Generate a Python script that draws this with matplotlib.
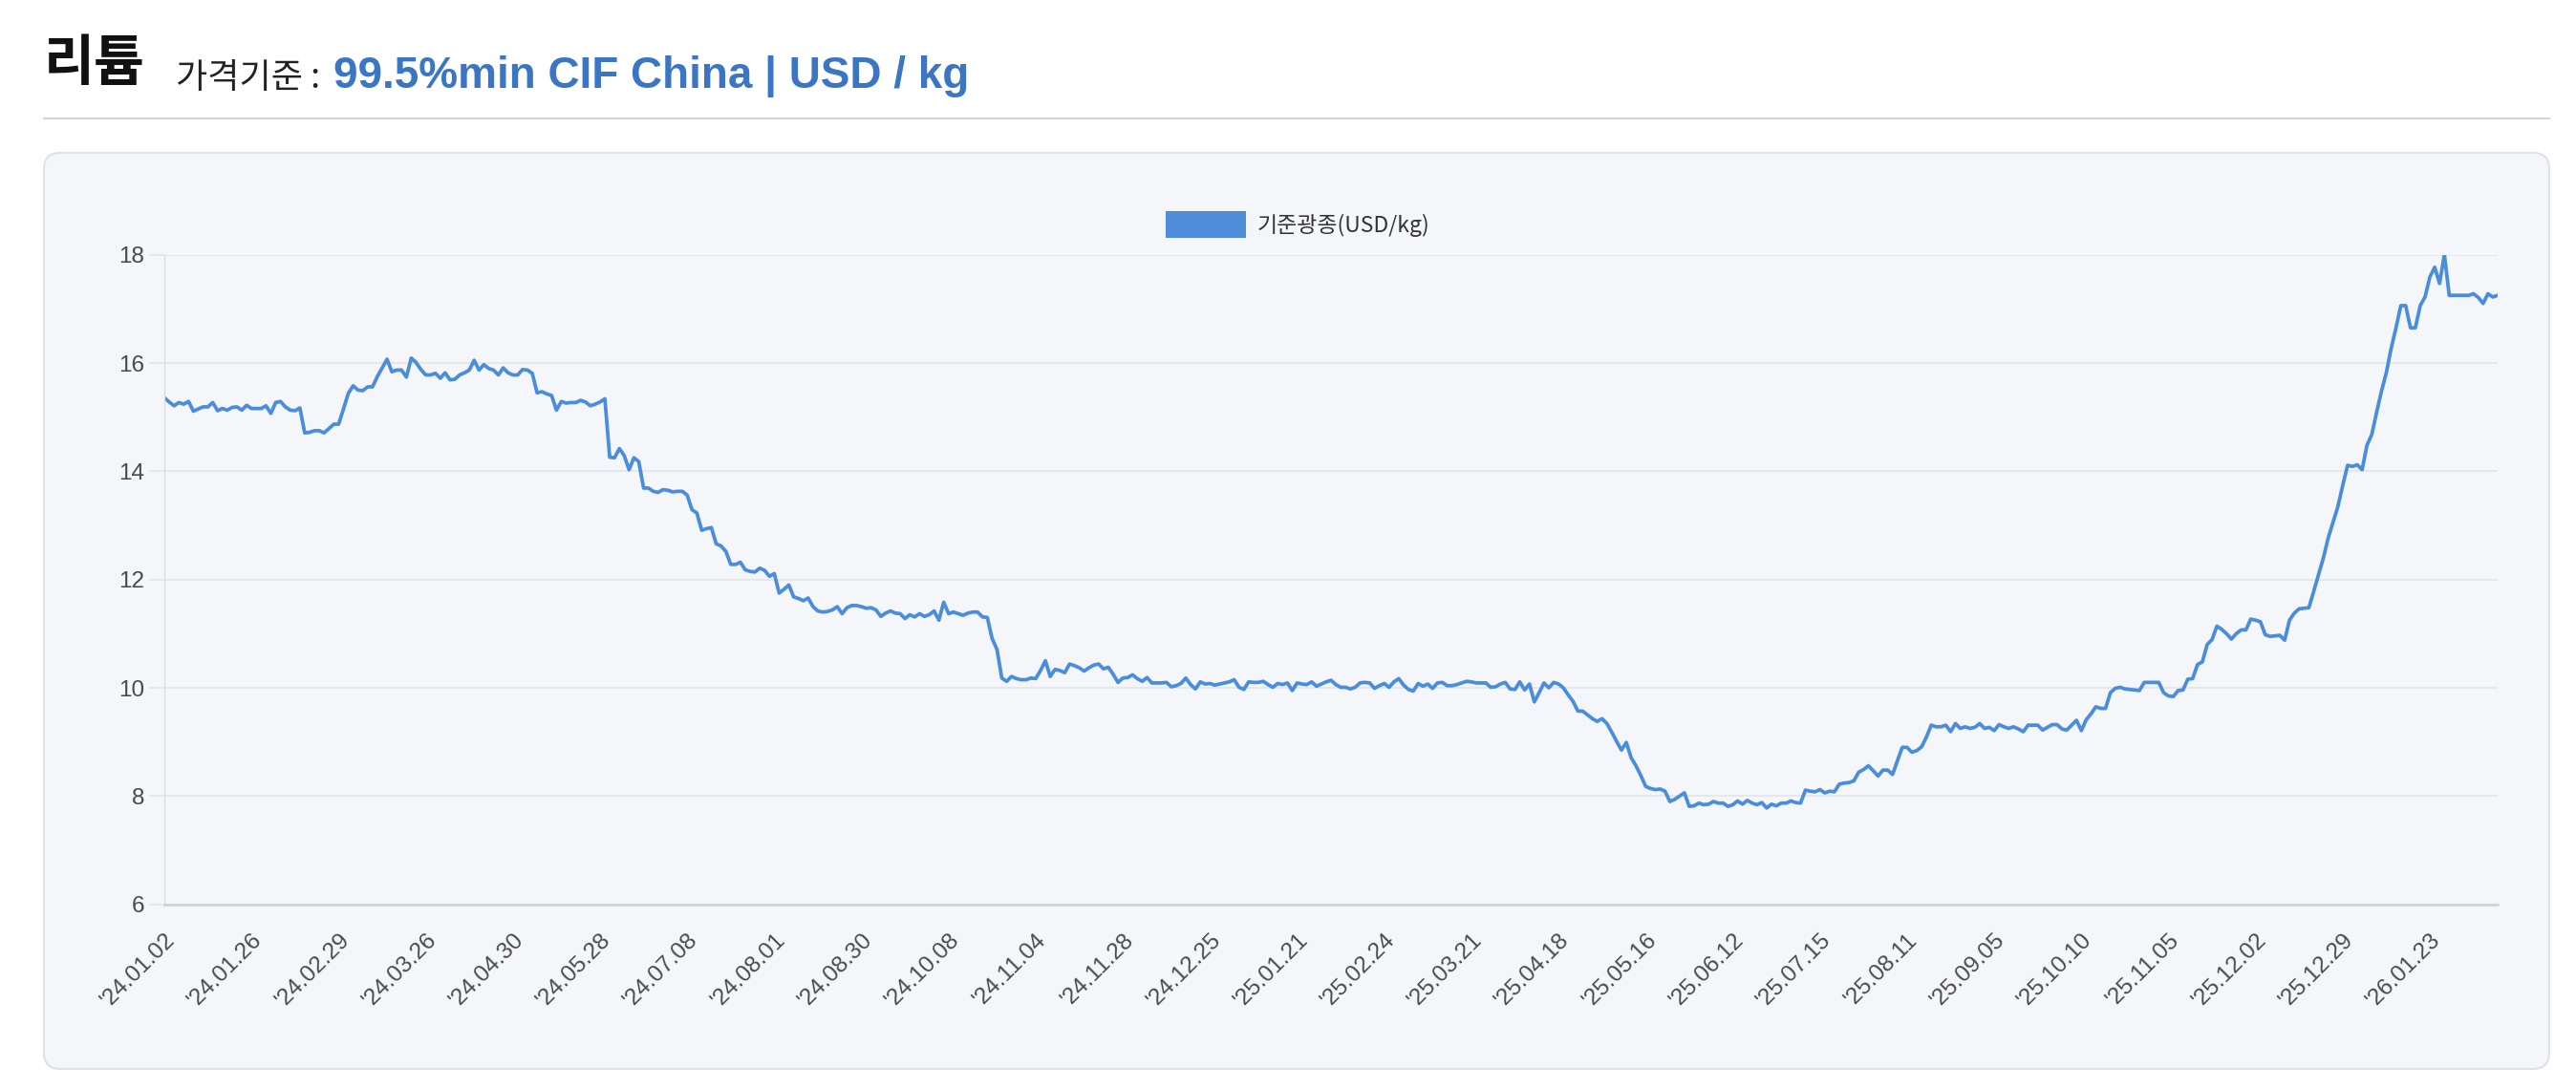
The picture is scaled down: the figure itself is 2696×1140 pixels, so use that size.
import matplotlib
matplotlib.use('Agg')
import matplotlib.pyplot as plt
from matplotlib.patches import FancyBboxPatch, Rectangle
from matplotlib.lines import Line2D

# price series (USD/kg), one value per trading day
prices = [
    15.36, 15.28, 15.21, 15.27, 15.24, 15.29, 15.11, 15.15, 15.19, 15.19,
    15.27, 15.12, 15.16, 15.13, 15.18, 15.19, 15.13, 15.22, 15.16, 15.16,
    15.16, 15.21, 15.07, 15.27, 15.29, 15.19, 15.13, 15.12, 15.17, 14.71,
    14.72, 14.75, 14.75, 14.71, 14.79, 14.87, 14.87, 15.15, 15.44, 15.58,
    15.50, 15.49, 15.56, 15.56, 15.75, 15.91, 16.07, 15.84, 15.87, 15.87,
    15.74, 16.09, 16.01, 15.88, 15.78, 15.78, 15.81, 15.72, 15.82, 15.69,
    15.70, 15.78, 15.82, 15.87, 16.05, 15.87, 15.97, 15.90, 15.87, 15.78,
    15.91, 15.82, 15.78, 15.78, 15.88, 15.87, 15.81, 15.45, 15.47, 15.43,
    15.40, 15.13, 15.29, 15.26, 15.27, 15.27, 15.31, 15.28, 15.21, 15.24,
    15.28, 15.34, 14.26, 14.25, 14.42, 14.29, 14.03, 14.25, 14.18, 13.69,
    13.69, 13.63, 13.61, 13.66, 13.65, 13.62, 13.63, 13.63, 13.56, 13.29,
    13.23, 12.91, 12.94, 12.96, 12.66, 12.62, 12.52, 12.28, 12.28, 12.32,
    12.18, 12.15, 12.14, 12.21, 12.17, 12.06, 12.11, 11.75, 11.82, 11.90,
    11.68, 11.65, 11.61, 11.66, 11.50, 11.42, 11.40, 11.41, 11.44, 11.50,
    11.37, 11.48, 11.52, 11.52, 11.50, 11.47, 11.48, 11.44, 11.32, 11.38,
    11.42, 11.38, 11.37, 11.28, 11.35, 11.31, 11.37, 11.32, 11.35, 11.42,
    11.25, 11.58, 11.37, 11.40, 11.37, 11.34, 11.38, 11.40, 11.40, 11.31,
    11.30, 10.91, 10.71, 10.18, 10.12, 10.21, 10.17, 10.15, 10.15, 10.18,
    10.17, 10.32, 10.50, 10.21, 10.34, 10.32, 10.28, 10.44, 10.41, 10.37,
    10.31, 10.37, 10.42, 10.44, 10.35, 10.38, 10.25, 10.10, 10.18, 10.19,
    10.24, 10.17, 10.12, 10.19, 10.09, 10.09, 10.09, 10.10, 10.02, 10.04,
    10.08, 10.18, 10.06, 9.98, 10.11, 10.07, 10.08, 10.05, 10.07, 10.09,
    10.11, 10.15, 10.01, 9.97, 10.11, 10.10, 10.10, 10.12, 10.06, 10.01,
    10.08, 10.06, 10.09, 9.95, 10.09, 10.07, 10.06, 10.11, 10.03, 10.07,
    10.11, 10.14, 10.06, 10.01, 10.01, 9.98, 10.01, 10.09, 10.10, 10.09,
    9.99, 10.04, 10.08, 10.01, 10.11, 10.17, 10.05, 9.97, 9.94, 10.08,
    10.03, 10.07, 9.99, 10.09, 10.10, 10.04, 10.04, 10.06, 10.09, 10.12,
    10.11, 10.09, 10.09, 10.09, 10.01, 10.02, 10.07, 10.10, 9.98, 9.97,
    10.11, 9.96, 10.07, 9.74, 9.91, 10.09, 10.00, 10.10, 10.07, 10.00,
    9.87, 9.75, 9.57, 9.57, 9.50, 9.43, 9.38, 9.43, 9.34, 9.18,
    9.01, 8.85, 8.99, 8.71, 8.56, 8.38, 8.18, 8.14, 8.12, 8.13,
    8.09, 7.90, 7.94, 8.00, 8.06, 7.81, 7.82, 7.87, 7.84, 7.85,
    7.90, 7.87, 7.87, 7.81, 7.84, 7.91, 7.85, 7.92, 7.87, 7.84,
    7.88, 7.78, 7.85, 7.82, 7.87, 7.87, 7.91, 7.88, 7.87, 8.11,
    8.09, 8.08, 8.12, 8.06, 8.09, 8.08, 8.22, 8.24, 8.25, 8.28,
    8.44, 8.49, 8.56, 8.47, 8.37, 8.48, 8.48, 8.40, 8.65, 8.90,
    8.90, 8.81, 8.84, 8.91, 9.09, 9.31, 9.28, 9.28, 9.31, 9.19,
    9.34, 9.25, 9.28, 9.25, 9.27, 9.34, 9.25, 9.27, 9.21, 9.32,
    9.28, 9.25, 9.28, 9.24, 9.19, 9.31, 9.31, 9.31, 9.22, 9.27,
    9.32, 9.32, 9.24, 9.22, 9.31, 9.40, 9.21, 9.41, 9.52, 9.65,
    9.62, 9.62, 9.91, 9.99, 10.01, 9.98, 9.97, 9.96, 9.95, 10.10,
    10.10, 10.10, 10.10, 9.91, 9.85, 9.84, 9.95, 9.96, 10.16, 10.17,
    10.43, 10.48, 10.80, 10.89, 11.14, 11.08, 11.00, 10.90, 11.00, 11.07,
    11.07, 11.27, 11.25, 11.22, 10.98, 10.95, 10.96, 10.97, 10.88, 11.25,
    11.38, 11.46, 11.47, 11.48, 11.78, 12.09, 12.40, 12.77, 13.06, 13.35,
    13.74, 14.11, 14.09, 14.12, 14.03, 14.48, 14.68, 15.09, 15.48, 15.82,
    16.27, 16.65, 17.06, 17.06, 16.65, 16.65, 17.06, 17.22, 17.59, 17.77,
    17.47, 18.00, 17.25, 17.25, 17.25, 17.25, 17.25, 17.28, 17.21, 17.10,
    17.28, 17.22, 17.25,
]

# every 18th date is shown on the x axis
date_labels = ["'24.01.02", "'24.01.26", "'24.02.29", "'24.03.26", "'24.04.30",
               "'24.05.28", "'24.07.08", "'24.08.01", "'24.08.30", "'24.10.08",
               "'24.11.04", "'24.11.28", "'24.12.25", "'25.01.21", "'25.02.24",
               "'25.03.21", "'25.04.18", "'25.05.16", "'25.06.12", "'25.07.15",
               "'25.08.11", "'25.09.05", "'25.10.10", "'25.11.05", "'25.12.02",
               "'25.12.29", "'26.01.23"]
label_step = 18
y_ticks = [6, 8, 10, 12, 14, 16, 18]

series_name = '기준광종(USD/kg)'
title = '리튬'
basis_label = '가격기준 :'
basis_value = '99.5%min CIF China | USD / kg'

plt.rcParams['font.family'] = ['Liberation Sans', 'Noto Sans CJK KR', 'DejaVu Sans']
CJK = ['Noto Sans CJK KR', 'DejaVu Sans']

W, H = 2696, 1140
fig = plt.figure(figsize=(W / 100, H / 100), dpi=100)
fig.patch.set_facecolor('white')

# card behind the chart (kept below the axes)
card = FancyBboxPatch((0.46, 0.21), 26.22, 9.59,
                      boxstyle='round,pad=0,rounding_size=0.17',
                      transform=fig.dpi_scale_trans,
                      facecolor='#f5f6fa', edgecolor='#dfe1e5', lw=1.5, zorder=-5)
fig.add_artist(card)

# header
fig.text(46 / W, 1 - 84 / H, title, fontsize=41.5, weight='bold',
         family=CJK, va='baseline', color='#111111')
fig.text(184 / W, 1 - 92 / H, basis_label, fontsize=26,
         family=CJK, va='baseline', color='#222222')
fig.text(349 / W, 1 - 92 / H, basis_value, fontsize=33, weight='bold',
         va='baseline', color='#3a76c4')
fig.add_artist(Line2D([46 / W, 2668 / W], [1 - 124 / H, 1 - 124 / H],
                      color='#d4d4d4', lw=1.5))

# legend
fig.add_artist(Rectangle((1220 / W, 1 - 249 / H), 84 / W, 28 / H,
                         transform=fig.transFigure, facecolor='#4f8ddb', edgecolor='none'))
fig.text(1316 / W, 1 - 236 / H, series_name, fontsize=16.5, va='center',
         family=CJK, color='#333333')

ax = fig.add_axes([172 / W, 1 - 946.7 / H, (2614 - 172) / W, (946.7 - 266.7) / H])
ax.set_facecolor('none')
ax.set_zorder(2)

x = list(range(len(prices)))
ax.plot(x, prices, color='#4a8ddc', lw=2.7)

ax.set_xlim(0, len(prices) - 1)
ax.set_ylim(6, 18)
ax.set_yticks(y_ticks)
ax.set_yticklabels([str(v) for v in y_ticks])
ax.set_xticks(list(range(0, label_step * len(date_labels), label_step)))
ax.set_xticklabels(date_labels, rotation=45, ha='right', va='top', rotation_mode='anchor')

ax.grid(axis='y', color='#e3e4e7', lw=1.2)
ax.set_axisbelow(True)
for side in ['top', 'right']:
    ax.spines[side].set_visible(False)
ax.spines['left'].set_color('#dcdde0')
ax.spines['left'].set_linewidth(1.0)
ax.spines['bottom'].set_color('#cfd0d3')
ax.spines['bottom'].set_linewidth(1.8)

ax.tick_params(axis='y', length=11.5, width=1.2, color='#e3e4e7', labelsize=17.5,
               labelcolor='#4a4a4a', pad=3.5)
ax.tick_params(axis='x', length=0, labelsize=17.5, labelcolor='#4a4a4a', pad=19)

fig.savefig('out.png', dpi=100, facecolor='white')
